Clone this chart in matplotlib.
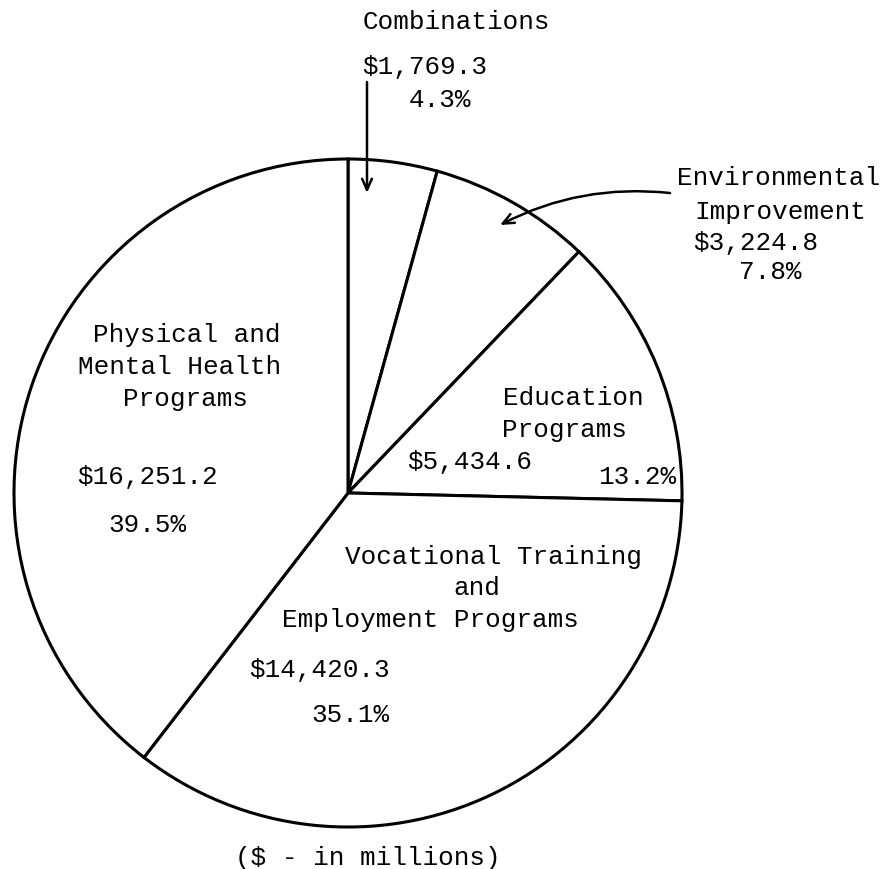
import matplotlib.pyplot as plt

# image size in pixels, the axes is set up as 1 unit = 1 pixel
W, H = 886, 869

# ---- data ($ in millions) ----
categories = ["Combinations", "Environmental Improvement", "Education Programs",
              "Vocational Training and Employment Programs",
              "Physical and Mental Health Programs"]
amounts = [1769.3, 3224.8, 5434.6, 14420.3, 16251.2]
amount_labels = ["$1,769.3", "$3,224.8", "$5,434.6", "$14,420.3", "$16,251.2"]
pct_labels = ["4.3%", "7.8%", "13.2%", "35.1%", "39.5%"]


def img(x, y):
    # picture coords (y down) -> axes coords (y up)
    return x, H - y


fig = plt.figure(figsize=(W / 100, H / 100), dpi=100)
ax = fig.add_axes([0, 0, 1, 1])

ax.pie(amounts, startangle=90, counterclock=False,
       center=img(348, 493), radius=334, colors=["white"] * len(amounts),
       wedgeprops=dict(edgecolor="black", linewidth=2.2))
ax.set_xlim(0, W)
ax.set_ylim(0, H)
ax.set_aspect("equal")
ax.axis("off")

font = dict(family=["Liberation Mono", "DejaVu Sans Mono"], fontsize=18.7,
            color="black", ha="center", va="center", parse_math=False)


def put(x, y, s):
    ax.text(*img(x, y), s, **font)


# Combinations (outside, top)
put(456, 22, "Combinations")
put(425, 67, amount_labels[0])
put(440, 100, pct_labels[0])

# Environmental Improvement (outside, right)
put(779, 178, "Environmental")
put(780, 212, "Improvement")
put(756, 243, amount_labels[1])
put(770, 272, pct_labels[1])

# Education
put(573, 398, "Education")
put(565, 430, "Programs")
put(470, 462, amount_labels[2])
put(637, 477, pct_labels[2])

# Vocational Training
put(493, 557, "Vocational Training")
put(477, 588, "and")
put(430, 620, "Employment Programs")
put(320, 670, amount_labels[3])
put(350, 715, pct_labels[3])

# Physical and Mental Health
put(187, 335, "Physical and")
put(180, 367, "Mental Health")
put(186, 399, "Programs")
put(148, 477, amount_labels[4])
put(147, 525, pct_labels[4])

put(368, 858, "($ - in millions)")

# arrows pointing into the two thin slices
ax.annotate("", xy=img(367, 193), xytext=img(367, 82),
            arrowprops=dict(arrowstyle="->,head_length=0.8,head_width=0.35",
                            lw=1.8, color="black", shrinkA=0, shrinkB=0))
ax.annotate("", xy=img(500, 225), xytext=img(670, 193),
            arrowprops=dict(arrowstyle="->,head_length=0.8,head_width=0.35",
                            lw=1.8, color="black", shrinkA=0, shrinkB=0,
                            connectionstyle="arc3,rad=0.15"))

fig.savefig("out.png", dpi=100, facecolor="white")
